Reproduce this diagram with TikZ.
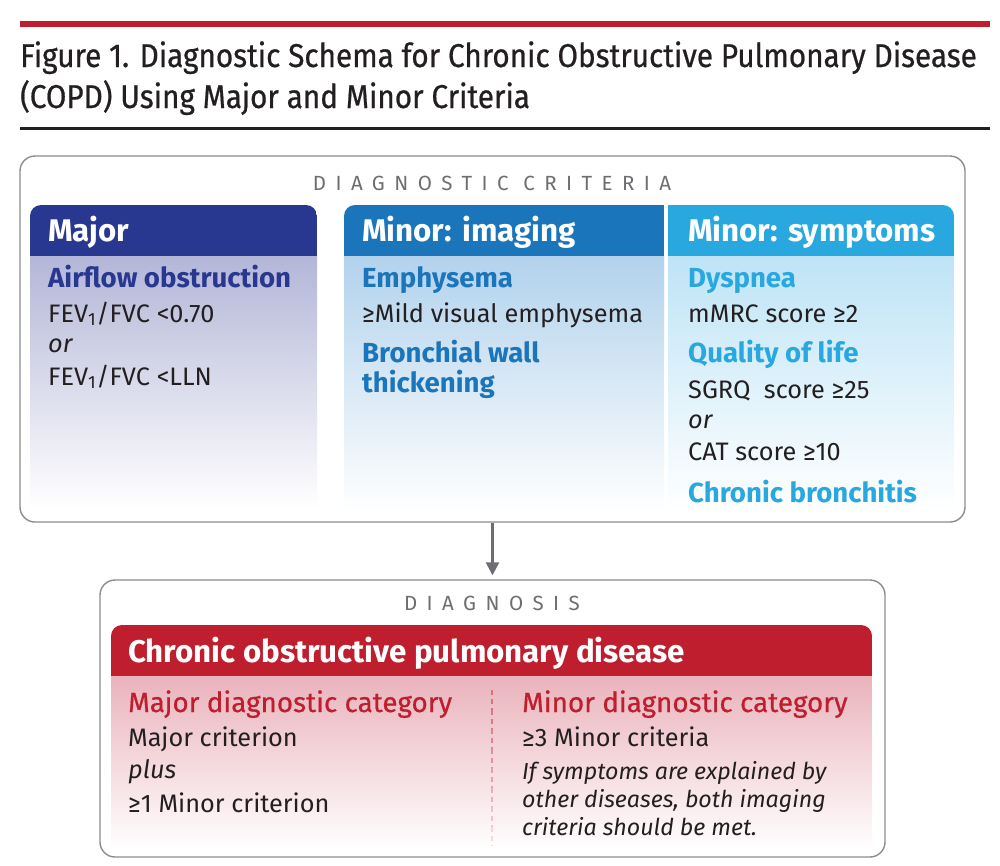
\documentclass[tikz,border=0pt]{standalone}
\usepackage{fontspec}
\setmainfont{Fira Sans}
\newfontfamily\titlefont[FakeStretch=0.9,FakeBold=0.6]{Fira Sans}
\newfontfamily\spacedfont[LetterSpace=46]{Fira Sans}
\newfontfamily\medfont[FakeBold=0.6]{Fira Sans}
\usetikzlibrary{positioning,arrows.meta}

\definecolor{jamared}{HTML}{BE1E2D}
\definecolor{redbody}{HTML}{EAB3BC}
\definecolor{majorhead}{HTML}{283891}
\definecolor{majorbody}{HTML}{B3B6D7}
\definecolor{imghead}{HTML}{1B75BB}
\definecolor{imgbody}{HTML}{B2D2EC}
\definecolor{symhead}{HTML}{29A8E0}
\definecolor{symbody}{HTML}{BEE4F6}
\definecolor{framegray}{HTML}{8A8C8E}
\definecolor{labelgray}{HTML}{6D6E71}
\definecolor{txtblack}{HTML}{231F20}
\definecolor{dashpink}{HTML}{D7707F}

\tikzset{
  frame/.style={draw=framegray, line width=1.4pt, rounded corners=15pt, inner sep=0pt},
  titletxt/.style={anchor=base west, inner sep=0pt, text=txtblack, font=\titlefont\fontsize{33}{36}\selectfont},
  spaced/.style={anchor=base, inner sep=0pt, text=labelgray, font=\spacedfont\fontsize{20.5}{24}\selectfont},
  headtxt/.style={anchor=base west, inner sep=0pt, text=white, font=\fontsize{31.3}{34}\selectfont\bfseries},
  subtxt/.style={anchor=base west, inner sep=0pt, font=\fontsize{27.6}{31}\selectfont\bfseries},
  bodytxt/.style={anchor=base west, inner sep=0pt, text=txtblack, font=\fontsize{25.3}{29}\selectfont},
  cattxt/.style={anchor=base west, inner sep=0pt, text=jamared, font=\medfont\fontsize{27.8}{31}\selectfont},
  notetxt/.style={anchor=base west, inner sep=0pt, text=txtblack, font=\fontsize{23.2}{28}\selectfont\itshape},
  arrowline/.style={draw=labelgray, line width=2.4pt, -{Triangle[length=13pt,width=13pt]}, shorten >=4pt}
}

\begin{document}
\begin{tikzpicture}[x=1pt,y=-1pt]
\useasboundingbox[fill=white] (0,0) rectangle (1000,865);

% title block
\fill[jamared] (20,21) rectangle (990,27);
\node[titletxt] (title1) at (20,67) {Figure 1. Diagnostic Schema for Chronic Obstructive Pulmonary Disease};
\node[titletxt] (title2) at (20,108) {(COPD) Using Major and Minor Criteria};
\fill[txtblack] (20,127) rectangle (990,130);

% diagnostic criteria frame
\node[frame, minimum width=945, minimum height=366] (crit) at (492.5,339) {};
\node[spaced] (critlabel) at (492,190) {DIAGNOSTIC CRITERIA};

% major panel
\begin{scope}
  \clip[rounded corners=11pt] (30,205) rectangle (317,520);
  \fill[majorhead] (30,205) rectangle (317,256);
  \shade[top color=majorbody, bottom color=white] (30,256) rectangle (317,508);
\end{scope}
\node[headtxt] (majorhd) at (48,241) {Major};
\node[subtxt, text=majorhead] (airflow) at (48,287) {Airflow obstruction};
\node[bodytxt] (feva) at (48,322) {FEV\textsubscript{1}/FVC <0.70};
\node[bodytxt, font=\fontsize{25.3}{29}\selectfont\itshape] (majoror) at (48,352) {or};
\node[bodytxt] (fevb) at (48,385) {FEV\textsubscript{1}/FVC <LLN};

% minor panels
\begin{scope}
  \clip[rounded corners=11pt] (344,205) rectangle (954,520);
  \fill[imghead] (344,205) rectangle (664,256);
  \shade[top color=imgbody, bottom color=white] (344,256) rectangle (664,512);
  \fill[symhead] (668,205) rectangle (954,256);
  \shade[top color=symbody, bottom color=white] (668,256) rectangle (954,512);
\end{scope}
\node[headtxt] (imghd) at (362,241) {Minor: imaging};
\node[subtxt, text=imghead] (emph) at (362,287) {Emphysema};
\node[bodytxt] (mild) at (362,322) {≥Mild visual emphysema};
\node[subtxt, text=imghead] (bronch) at (362,362) {Bronchial wall};
\node[subtxt, text=imghead] (thick) at (362,392) {thickening};

\node[headtxt] (symhd) at (688,241) {Minor: symptoms};
\node[subtxt, text=symhead] (dysp) at (688,287) {Dyspnea};
\node[bodytxt] (mmrc) at (688,322) {mMRC score ≥2};
\node[subtxt, text=symhead] (qol) at (688,362) {Quality of life};
\node[bodytxt] (sgrq) at (688,398) {SGRQ\ \ score ≥25};
\node[bodytxt, font=\fontsize{25.3}{29}\selectfont\itshape] (symor) at (688,428) {or};
\node[bodytxt] (cat) at (688,460) {CAT score ≥10};
\node[subtxt, text=symhead] (chron) at (688,502) {Chronic bronchitis};

% diagnosis frame
\node[frame, minimum width=785, minimum height=277] (diag) at (492.5,718.5) {};
\node[spaced] (diaglabel) at (492,610) {DIAGNOSIS};
\draw[arrowline] (crit.south) -- (diag.north);

\begin{scope}
  \clip[rounded corners=11pt] (111,625) rectangle (872,860);
  \fill[jamared] (111,625) rectangle (872,676);
  \shade[top color=redbody, bottom color=white] (111,676) rectangle (872,850);
\end{scope}
\node[headtxt] (copd) at (128,662) {Chronic obstructive pulmonary disease};

% dashed divider, fading out
\foreach \i in {0,...,7}
  \draw[dashpink, line width=2pt, dash pattern=on 5pt off 4pt, opacity=1-\i*0.11]
    (492,{690+\i*19.5}) -- (492,{690+(\i+1)*19.5});

\node[cattxt] (majcat) at (128,712) {Major diagnostic category};
\node[bodytxt] (majcrit) at (128,746) {Major criterion};
\node[bodytxt, font=\fontsize{25.3}{29}\selectfont\itshape] (plus) at (128,778) {plus};
\node[bodytxt] (onemin) at (128,812) {≥1 Minor criterion};

\node[cattxt] (mincat) at (522,712) {Minor diagnostic category};
\node[bodytxt] (threemin) at (522,746) {≥3 Minor criteria};
\node[notetxt] (notea) at (522,779) {If symptoms are explained by};
\node[notetxt] (noteb) at (522,807) {other diseases, both imaging};
\node[notetxt] (notec) at (522,835) {criteria should be met.};
\end{tikzpicture}
\end{document}
